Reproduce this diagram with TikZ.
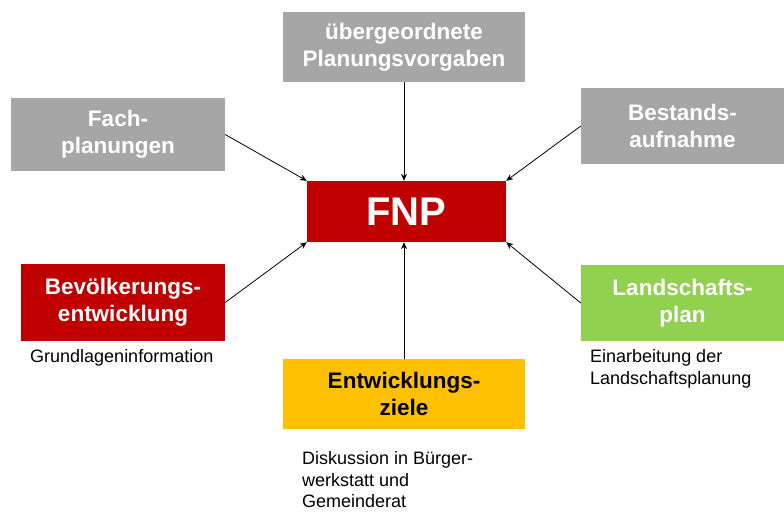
\documentclass[tikz,border=0pt]{standalone}
\usepackage{fontspec}
\setmainfont{Liberation Sans}
\usepackage{xcolor}
\usetikzlibrary{arrows.meta, positioning}

\definecolor{boxgray}{HTML}{A6A6A6}
\definecolor{boxred}{HTML}{C00000}
\definecolor{boxgreen}{HTML}{92D050}
\definecolor{boxyellow}{HTML}{FFC000}

\begin{document}
\begin{tikzpicture}[
    x=1pt, y=-1pt,
    block/.style={rectangle, fill=boxgray, text=white, align=center, inner sep=0pt, font=\fontsize{22.5}{27}\selectfont\bfseries},
    note/.style={anchor=west, align=left, inner sep=0pt, font=\fontsize{18}{21.5}\selectfont},
    arr/.style={-{Stealth[length=7pt, width=6pt]}, line width=0.8pt}
]
    \useasboundingbox (0,0) rectangle (784,512);

    \node[block, minimum width=199pt, minimum height=61pt, fill=boxred, font=\fontsize{40}{44}\selectfont\bfseries] (fnp) at (406.5,211.5) {FNP};
    \node[block, minimum width=242pt, minimum height=70pt] (vorgaben) at (404,47) {übergeordnete\\Planungsvorgaben};
    \node[block, minimum width=214pt, minimum height=73pt] (fach) at (118,134.5) {Fach-\\planungen};
    \node[block, minimum width=203pt, minimum height=76pt] (bestand) at (682.5,126) {Bestands-\\aufnahme};
    \node[block, minimum width=204pt, minimum height=77pt, fill=boxred] (bevoelk) at (123,302.5) {Bevölkerungs-\\entwicklung};
    \node[block, minimum width=203pt, minimum height=76pt, fill=boxgreen] (landschaft) at (682.5,303) {Landschafts-\\plan};
    \node[block, minimum width=242pt, minimum height=70pt, fill=boxyellow, text=black] (ziele) at (404,394) {Entwicklungs-\\ziele};

    % Erlaeuterungen
    \node[note] (grundlage) at (30,358) {Grundlageninformation};
    \node[note] (einarb) at (590,369) {Einarbeitung der\\Landschaftsplanung};
    \node[note] (diskussion) at (302,480) {Diskussion in Bürger-\\werkstatt und\\Gemeinderat};

    \draw[arr] (vorgaben) -- (vorgaben |- fnp.north);
    \draw[arr] (fach.east) -- (fnp.north west);
    \draw[arr] (bestand.west) -- (fnp.north east);
    \draw[arr] (bevoelk.east) -- (fnp.south west);
    \draw[arr] (landschaft.west) -- (fnp.south east);
    \draw[arr] (ziele) -- (ziele |- fnp.south);
\end{tikzpicture}
\end{document}
